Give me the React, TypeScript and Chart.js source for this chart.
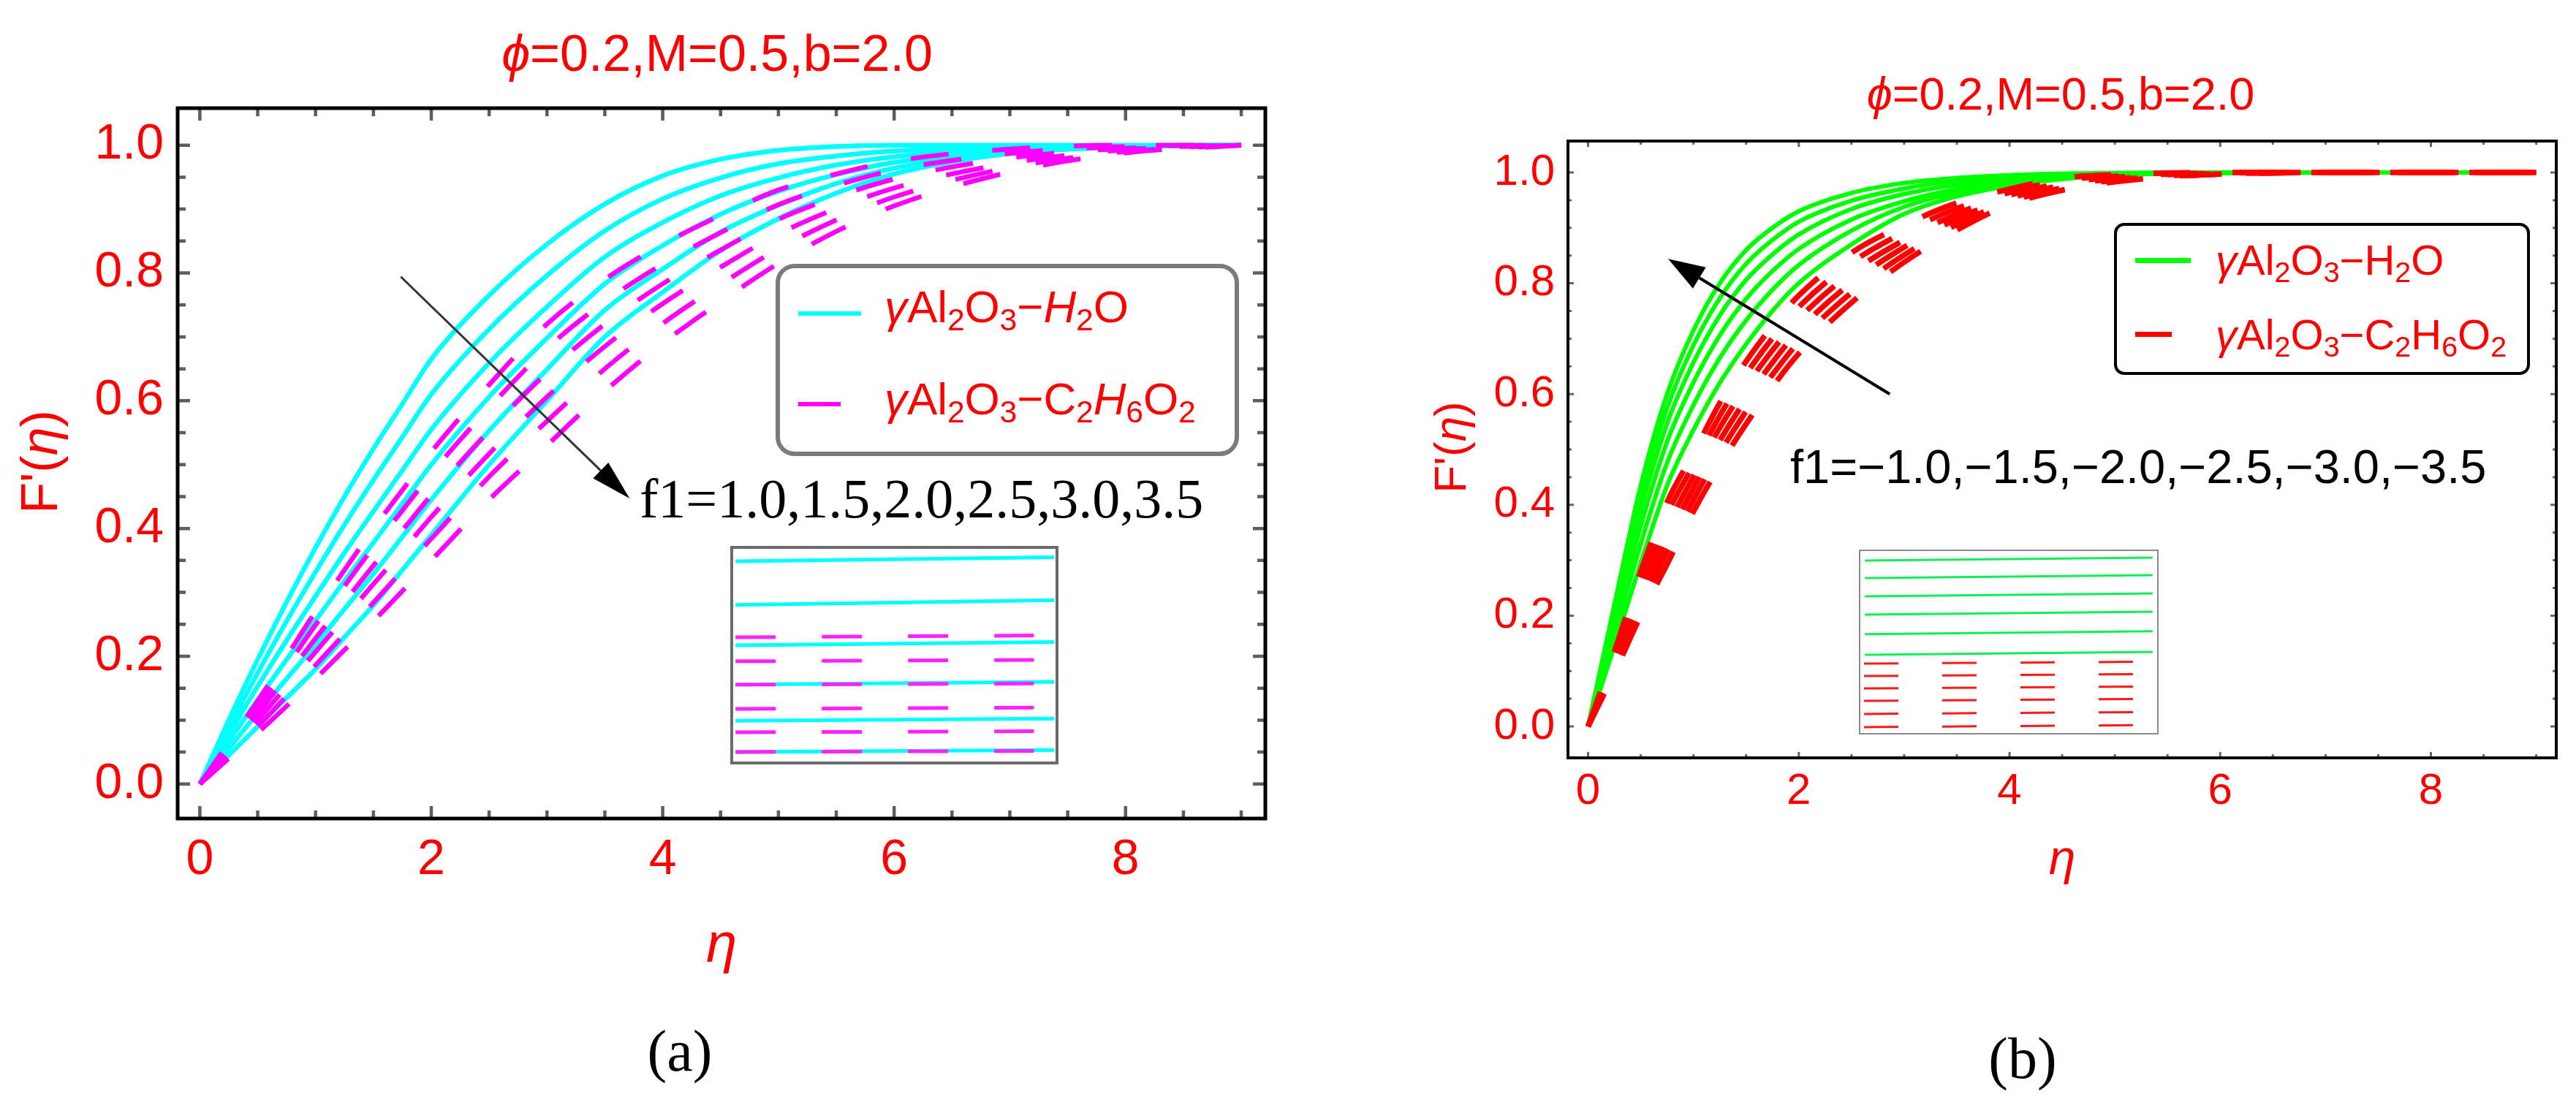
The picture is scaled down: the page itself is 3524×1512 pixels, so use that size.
import React, { useEffect, useRef } from "react";
import { Chart, registerables } from "chart.js";

Chart.register(...registerables);

const SANS = "'Liberation Sans', Arial, Helvetica, 'DejaVu Sans', sans-serif";
const SERIF = "'Liberation Serif', 'Times New Roman', Times, serif";
const RED = "#ff0000";

// ---------- data ----------
const ETA = [0, 0.25, 0.5, 0.75, 1, 1.25, 1.5, 1.75, 2, 2.5, 3, 3.5, 4, 4.5, 5, 5.5, 6, 7, 8, 9];

// Panel (a) γAl2O3–H2O, f1 = 1.0 … 3.5
const A_H2O_F10 = [0, .1, .195, .285, .37, .45, .525, .595, .665, .765, .845, .908, .952, .978, .992, .998, 1, 1, 1, 1];
const A_H2O_F15 = [0, .089, .174, .255, .332, .406, .476, .543, .61, .712, .796, .866, .916, .949, .971, .983, .991, .997, .999, 1];
const A_H2O_F20 = [0, .078, .153, .225, .294, .362, .427, .491, .555, .659, .747, .825, .879, .921, .949, .969, .982, .995, .999, 1];
const A_H2O_F25 = [0, .067, .132, .195, .256, .318, .378, .439, .5, .606, .698, .783, .843, .892, .928, .954, .973, .992, .998, 1];
const A_H2O_F30 = [0, .056, .111, .165, .218, .274, .329, .387, .445, .553, .649, .742, .806, .864, .906, .94, .964, .99, .998, 1];
const A_H2O_F35 = [0, .045, .09, .135, .18, .23, .28, .335, .39, .5, .6, .7, .77, .835, .885, .925, .955, .987, .997, 1];

// Panel (a) γAl2O3–C2H6O2
const A_EG_F10 = [0, .065, .13, .2, .27, .335, .4, .46, .52, .625, .72, .79, .845, .89, .93, .955, .975, .994, 1, 1];
const A_EG_F15 = [0, .06, .12, .184, .249, .31, .371, .428, .486, .589, .682, .755, .814, .863, .907, .937, .961, .987, .998, 1];
const A_EG_F20 = [0, .055, .11, .169, .228, .285, .342, .397, .452, .553, .644, .72, .783, .836, .884, .919, .947, .98, .995, 1];
const A_EG_F25 = [0, .05, .1, .153, .207, .26, .313, .365, .418, .517, .606, .685, .752, .809, .861, .901, .933, .972, .993, 1];
const A_EG_F30 = [0, .045, .09, .138, .186, .235, .284, .334, .384, .481, .568, .65, .721, .782, .838, .883, .919, .965, .99, 1];
const A_EG_F35 = [0, .04, .08, .122, .165, .21, .255, .302, .35, .445, .53, .615, .69, .755, .815, .865, .905, .958, .988, 1];

// Panel (b) γAl2O3–H2O, f1 = −1.0 … −3.5
const B_H2O_F10 = [0, .22, .435, .6, .715, .8, .86, .9, .93, .963, .981, .99, .995, .998, .999, 1, 1, 1, 1, 1];
const B_H2O_F15 = [0, .209, .414, .575, .688, .773, .835, .878, .911, .949, .971, .985, .992, .996, .998, .999, 1, 1, 1, 1];
const B_H2O_F20 = [0, .196, .39, .547, .657, .742, .806, .852, .888, .934, .961, .978, .988, .994, .997, .999, 1, 1, 1, 1];
const B_H2O_F25 = [0, .181, .362, .514, .621, .706, .772, .822, .862, .915, .948, .97, .984, .992, .997, .998, .999, 1, 1, 1];
const B_H2O_F30 = [0, .164, .33, .476, .58, .665, .733, .788, .833, .895, .938, .964, .98, .99, .996, .998, .999, 1, 1, 1];
const B_H2O_F35 = [0, .145, .295, .435, .535, .62, .69, .75, .8, .87, .925, .957, .976, .988, .995, .998, .999, 1, 1, 1];

// Panel (b) γAl2O3–C2H6O2
const B_EG_F10 = [0, .135, .28, .405, .493, .584, .659, .723, .778, .855, .905, .945, .97, .99, .996, .999, 1, 1, 1, 1];
const B_EG_F15 = [0, .127, .264, .383, .472, .561, .636, .701, .757, .837, .892, .935, .964, .986, .993, .997, .999, 1, 1, 1];
const B_EG_F20 = [0, .12, .248, .36, .451, .539, .614, .679, .736, .819, .878, .925, .959, .981, .991, .996, .998, 1, 1, 1];
const B_EG_F25 = [0, .112, .232, .338, .43, .516, .591, .657, .715, .801, .865, .916, .953, .977, .988, .994, .998, 1, 1, 1];
const B_EG_F30 = [0, .105, .216, .315, .409, .494, .569, .635, .694, .783, .851, .906, .947, .972, .986, .993, .997, 1, 1, 1];
const B_EG_F35 = [0, .097, .2, .293, .388, .471, .546, .613, .673, .765, .838, .896, .942, .968, .983, .992, .997, 1, 1, 1];

const A_H2O = [A_H2O_F10, A_H2O_F15, A_H2O_F20, A_H2O_F25, A_H2O_F30, A_H2O_F35];
const A_EG = [A_EG_F10, A_EG_F15, A_EG_F20, A_EG_F25, A_EG_F30, A_EG_F35];
const B_H2O = [B_H2O_F10, B_H2O_F15, B_H2O_F20, B_H2O_F25, B_H2O_F30, B_H2O_F35];
const B_EG = [B_EG_F10, B_EG_F15, B_EG_F20, B_EG_F25, B_EG_F30, B_EG_F35];

const F1_A = ["1.0", "1.5", "2.0", "2.5", "3.0", "3.5"];
const F1_B = ["−1.0", "−1.5", "−2.0", "−2.5", "−3.0", "−3.5"];

// ticks
const X_TICKS = [0, 2, 4, 6, 8];
const X_MINOR = [0.5, 1, 1.5, 2.5, 3, 3.5, 4.5, 5, 5.5, 6.5, 7, 7.5, 8.5, 9];
const Y_TICKS = [0, 0.2, 0.4, 0.6, 0.8, 1.0];
const Y_MINOR = [0.05, 0.1, 0.15, 0.25, 0.3, 0.35, 0.45, 0.5, 0.55, 0.65, 0.7, 0.75, 0.85, 0.9, 0.95];

// arrows (data coordinates: from -> to)
const ARROW_A = [[1.737, 0.794], [3.714, 0.447]];
const ARROW_B = [[2.863, 0.600], [0.760, 0.844]];

// insets (own 0..1 coordinates: [left y, right y])
const INSET_A_X = [0.016, 0.987];
const INSET_A_DASH_X = [0.016, 0.925];
const INSET_A_CYAN = [[0.93, 0.948], [0.73, 0.752], [0.545, 0.56], [0.365, 0.378], [0.2, 0.21], [0.057, 0.066]];
const INSET_A_MAGENTA = [[0.582, 0.59], [0.472, 0.478], [0.365, 0.37], [0.254, 0.26], [0.147, 0.152], [0.057, 0.062]];
const INSET_B_X = [0.02, 0.98];
const INSET_B_DASH_X = [0.017, 0.915];
const INSET_B_GREEN = [[0.941, 0.957], [0.846, 0.862], [0.747, 0.763], [0.648, 0.664], [0.542, 0.558], [0.431, 0.447]];
const INSET_B_RED = [[0.383, 0.393], [0.316, 0.326], [0.249, 0.259], [0.182, 0.192], [0.111, 0.121], [0.04, 0.05]];

// ---------- plugins ----------
const frameTicksPlugin = {
  id: "frameTicks",
  afterDatasetsDraw(chart: any, _a: any, o: any) {
    if (!o || !o.enabled) return;
    const { ctx, chartArea: a } = chart;
    const xs = chart.scales.x;
    const ys = chart.scales.y;
    ctx.save();
    ctx.strokeStyle = o.tickColor;
    ctx.lineWidth = o.tickWidth;
    ctx.lineCap = "butt";
    const vx = (vals: number[], len: number) => {
      for (const v of vals) {
        const p = xs.getPixelForValue(v);
        ctx.beginPath();
        ctx.moveTo(p, a.bottom);
        ctx.lineTo(p, a.bottom - len);
        ctx.moveTo(p, a.top);
        ctx.lineTo(p, a.top + len);
        ctx.stroke();
      }
    };
    const vy = (vals: number[], len: number) => {
      for (const v of vals) {
        const p = ys.getPixelForValue(v);
        ctx.beginPath();
        ctx.moveTo(a.left, p);
        ctx.lineTo(a.left + len, p);
        ctx.moveTo(a.right, p);
        ctx.lineTo(a.right - len, p);
        ctx.stroke();
      }
    };
    vx(X_TICKS, o.major);
    vx(X_MINOR, o.minor);
    vy(Y_TICKS, o.major);
    vy(Y_MINOR, o.minor);
    ctx.strokeStyle = o.frameColor;
    ctx.lineWidth = o.frameWidth;
    ctx.strokeRect(a.left, a.top, a.right - a.left, a.bottom - a.top);
    if (o.arrow) {
      const [[x0, y0], [x1, y1]] = o.arrow;
      const p0x = xs.getPixelForValue(x0);
      const p0y = ys.getPixelForValue(y0);
      const p1x = xs.getPixelForValue(x1);
      const p1y = ys.getPixelForValue(y1);
      const ang = Math.atan2(p1y - p0y, p1x - p0x);
      const hl = o.arrowHead;
      const hw = o.arrowHalf;
      const bx = p1x - hl * Math.cos(ang);
      const by = p1y - hl * Math.sin(ang);
      ctx.strokeStyle = o.arrowColor;
      ctx.lineWidth = o.arrowWidth;
      ctx.beginPath();
      ctx.moveTo(p0x, p0y);
      ctx.lineTo(bx, by);
      ctx.stroke();
      ctx.fillStyle = o.arrowHeadColor;
      ctx.beginPath();
      ctx.moveTo(p1x, p1y);
      ctx.lineTo(bx + hw * Math.sin(ang), by - hw * Math.cos(ang));
      ctx.lineTo(bx - hw * Math.sin(ang), by + hw * Math.cos(ang));
      ctx.closePath();
      ctx.fill();
    }
    ctx.restore();
  },
};

const insetBorderPlugin = {
  id: "insetBorder",
  afterDatasetsDraw(chart: any, _a: any, o: any) {
    if (!o || !o.enabled) return;
    const { ctx } = chart;
    ctx.save();
    ctx.strokeStyle = o.color;
    ctx.lineWidth = o.width;
    ctx.strokeRect(o.width / 2, o.width / 2, chart.width - o.width, chart.height - o.width);
    ctx.restore();
  },
};

// ---------- configs ----------
function curveDataset(label: string, arr: number[], color: string, width: number, dash: number[], order: number) {
  return {
    label,
    data: ETA.map((x, i) => ({ x, y: arr[i] })),
    borderColor: color,
    backgroundColor: color,
    borderWidth: width,
    borderDash: dash,
    borderCapStyle: "butt",
    borderJoinStyle: "round",
    pointRadius: 0,
    fill: false,
    cubicInterpolationMode: "monotone",
    order,
  };
}

function panelConfig(s: any) {
  const datasets: any[] = [];
  s.solid.forEach((arr: number[], i: number) =>
    datasets.push(curveDataset(`γAl2O3-H2O f1=${s.f1[i]}`, arr, s.solidColor, s.solidWidth, [], 1)));
  s.dashed.forEach((arr: number[], i: number) =>
    datasets.push(curveDataset(`γAl2O3-C2H6O2 f1=${s.f1[i]}`, arr, s.dashedColor, s.dashedWidth, s.dash, 0)));
  return {
    type: "line",
    data: { datasets },
    options: {
      responsive: false,
      animation: false,
      devicePixelRatio: 1,
      events: [],
      layout: { padding: s.padding },
      plugins: {
        legend: { display: false },
        tooltip: { enabled: false },
        title: { display: false },
        frameTicks: {
          enabled: true,
          tickColor: s.tickColor, tickWidth: s.tickWidth, major: s.major, minor: s.minor,
          frameColor: "#000000", frameWidth: s.frameWidth,
          arrow: s.arrow, arrowColor: s.arrowColor, arrowHeadColor: "#000000",
          arrowWidth: s.arrowWidth, arrowHead: s.arrowHead, arrowHalf: s.arrowHalf,
        },
      },
      scales: {
        x: {
          type: "linear",
          min: s.xMin,
          max: s.xMax,
          grid: { display: false, drawTicks: false },
          border: { display: false },
          afterFit: (sc: any) => { sc.height = s.xAxisH; },
          afterBuildTicks: (sc: any) => { sc.ticks = X_TICKS.map((v) => ({ value: v })); },
          ticks: {
            autoSkip: false, maxRotation: 0, minRotation: 0, padding: s.tickPadX, color: RED,
            font: { family: SANS, size: s.tickFont },
            callback: (v: any) => String(v),
          },
          title: {
            display: true, text: "η", color: RED,
            font: { family: SANS, size: s.xTitleFont, style: "italic" },
            padding: { top: 0, bottom: s.xTitlePad },
          },
        },
        y: {
          type: "linear",
          min: s.yMin,
          max: s.yMax,
          grid: { display: false, drawTicks: false },
          border: { display: false },
          afterFit: (sc: any) => { sc.width = s.yAxisW; },
          afterBuildTicks: (sc: any) => { sc.ticks = Y_TICKS.map((v) => ({ value: v })); },
          ticks: {
            autoSkip: false, padding: s.tickPadY, color: RED,
            font: { family: SANS, size: s.tickFont },
            callback: (v: any) => Number(v).toFixed(1),
          },
          title: { display: false },
        },
      },
    },
    plugins: [frameTicksPlugin],
  };
}

function insetConfig(s: any) {
  const datasets: any[] = [];
  s.solid.forEach((lv: number[], i: number) =>
    datasets.push({
      label: `solid ${i}`,
      data: [{ x: s.solidX[0], y: lv[0] }, { x: s.solidX[1], y: lv[1] }],
      borderColor: s.solidColor, borderWidth: s.solidWidth, pointRadius: 0, fill: false, order: 1,
    }));
  s.dashed.forEach((lv: number[], i: number) =>
    datasets.push({
      label: `dashed ${i}`,
      data: [{ x: s.dashX[0], y: lv[0] }, { x: s.dashX[1], y: lv[1] }],
      borderColor: s.dashedColor, borderWidth: s.dashedWidth, borderDash: s.dash, borderCapStyle: "butt",
      pointRadius: 0, fill: false, order: 0,
    }));
  return {
    type: "line",
    data: { datasets },
    options: {
      responsive: false,
      animation: false,
      devicePixelRatio: 1,
      events: [],
      layout: { padding: 0 },
      plugins: {
        legend: { display: false },
        tooltip: { enabled: false },
        insetBorder: { enabled: true, color: s.borderColor, width: s.borderWidth },
      },
      scales: {
        x: { type: "linear", min: 0, max: 1, display: false },
        y: { type: "linear", min: 0, max: 1, display: false },
      },
    },
    plugins: [insetBorderPlugin],
  };
}

const PANEL_A = {
  f1: F1_A,
  solid: A_H2O, solidColor: "#00ffff", solidWidth: 6.5,
  dashed: A_EG, dashedColor: "#ff00ff", dashedWidth: 6.5, dash: [52, 60],
  padding: { left: 0, right: 31, top: 148, bottom: 162 },
  yAxisW: 243, xAxisH: 230,
  xMin: -0.192, xMax: 9.208, yMin: -0.054, yMax: 1.058,
  tickFont: 68, tickPadX: 16, tickPadY: 19,
  xTitleFont: 76, xTitlePad: 10,
  tickColor: "#5e5e5e", tickWidth: 4.5, major: 17, minor: 11, frameWidth: 5,
  arrow: ARROW_A, arrowColor: "#333333", arrowWidth: 3, arrowHead: 55, arrowHalf: 15,
};

const PANEL_B = {
  f1: F1_B,
  solid: B_H2O, solidColor: "#00ff00", solidWidth: 6,
  dashed: B_EG, dashedColor: "#ff0000", dashedWidth: 7.5, dash: [50, 58],
  padding: { left: 0, right: 27, top: 193, bottom: 275 },
  yAxisW: 383, xAxisH: 200,
  xMin: -0.191, xMax: 9.19, yMin: -0.0567, yMax: 1.0567,
  tickFont: 60, tickPadX: 10, tickPadY: 18,
  xTitleFont: 66, xTitlePad: 20,
  tickColor: "#666666", tickWidth: 3, major: 8, minor: 5, frameWidth: 4,
  arrow: ARROW_B, arrowColor: "#000000", arrowWidth: 4, arrowHead: 50, arrowHalf: 17,
};

const INSET_A = {
  solid: INSET_A_CYAN, solidX: INSET_A_X, solidColor: "#00ffff", solidWidth: 5,
  dashed: INSET_A_MAGENTA, dashX: INSET_A_DASH_X, dashedColor: "#ff22ff", dashedWidth: 5, dash: [55, 63],
  borderColor: "#6b6b6b", borderWidth: 4,
};

const INSET_B = {
  solid: INSET_B_GREEN, solidX: INSET_B_X, solidColor: "#12ee5a", solidWidth: 3,
  dashed: INSET_B_RED, dashX: INSET_B_DASH_X, dashedColor: "#ff1a1a", dashedWidth: 3, dash: [47, 60],
  borderColor: "#8a8a8a", borderWidth: 2,
};

// ---------- components ----------
function ChartCanvas({ build, left, top, width, height }: any) {
  const ref = useRef<HTMLCanvasElement>(null);
  useEffect(() => {
    const chart = new Chart(ref.current as HTMLCanvasElement, build() as any);
    return () => chart.destroy();
  }, []);
  return (
    <canvas
      ref={ref}
      width={width}
      height={height}
      style={{ position: "absolute", left, top, width, height }}
    />
  );
}

function Label({ x, cy, size, family = SANS, color = RED, align = "left", children, k = 0.49 }: any) {
  const style: any = {
    position: "absolute",
    top: cy - k * size,
    fontSize: size,
    lineHeight: `${size}px`,
    fontFamily: family,
    color,
    whiteSpace: "nowrap",
  };
  if (align === "center") {
    style.left = x - 1000;
    style.width = 2000;
    style.textAlign = "center";
  } else {
    style.left = x;
  }
  return <div style={style}>{children}</div>;
}

function VLabel({ cx, cy, size, children }: any) {
  return (
    <div
      style={{
        position: "absolute",
        left: cx - 300,
        top: cy - size / 2,
        width: 600,
        height: size,
        lineHeight: `${size}px`,
        fontSize: size,
        fontFamily: SANS,
        color: RED,
        textAlign: "center",
        whiteSpace: "nowrap",
        transform: "rotate(-90deg)",
        transformOrigin: "50% 50%",
      }}
    >
      {children}
    </div>
  );
}

const Sub = ({ children }: any) => (
  <span style={{ fontSize: "0.68em", position: "relative", top: "0.27em" }}>{children}</span>
);

function Swatch({ x, y, w, h, color }: any) {
  return <div style={{ position: "absolute", left: x, top: y - h / 2, width: w, height: h, background: color }} />;
}

export default function App() {
  useEffect(() => {
    document.body.style.margin = "0";
  }, []);
  return (
    <div style={{ position: "absolute", left: 0, top: 0, width: 3524, height: 1512, background: "#ffffff", overflow: "hidden" }}>
      <ChartCanvas build={() => panelConfig(PANEL_A)} left={0} top={0} width={1762} height={1512} />
      <ChartCanvas build={() => panelConfig(PANEL_B)} left={1762} top={0} width={1762} height={1512} />

      {/* insets */}
      <ChartCanvas build={() => insetConfig(INSET_A)} left={999} top={747} width={449} height={299} />
      <ChartCanvas build={() => insetConfig(INSET_B)} left={2543} top={752} width={410} height={253} />

      {/* y-axis titles */}
      <VLabel cx={54} cy={632} size={70}>F'(<i>η</i>)</VLabel>
      <VLabel cx={1984} cy={612} size={62}>F'(<i>η</i>)</VLabel>

      {/* titles */}
      <Label x={981} cy={72} size={70} align="center"><i>ϕ</i>=0.2,M=0.5,b=2.0</Label>
      <Label x={2819} cy={128} size={63} align="center"><i>ϕ</i>=0.2,M=0.5,b=2.0</Label>

      {/* panel captions */}
      <Label x={930} cy={1444} size={80} family={SERIF} color="#000000" align="center" k={0.58}>(a)</Label>
      <Label x={2767} cy={1454} size={80} family={SERIF} color="#000000" align="center" k={0.58}>(b)</Label>

      {/* annotations */}
      <Label x={875} cy={682} size={76} family={SERIF} color="#000000" k={0.5}>f1=1.0,1.5,2.0,2.5,3.0,3.5</Label>
      <Label x={2449} cy={638} size={65} color="#000000">f1=−1.0,−1.5,−2.0,−2.5,−3.0,−3.5</Label>

      {/* legend (a) */}
      <div style={{ position: "absolute", left: 1061, top: 361, width: 634, height: 263, border: "6px solid #7b7b7b", borderRadius: 26, boxSizing: "border-box", background: "#ffffff" }} />
      <Swatch x={1092} y={429} w={86} h={6} color={PANEL_A.solidColor} />
      <Swatch x={1092} y={553} w={58} h={6} color={PANEL_A.dashedColor} />
      <Label x={1210} cy={419} size={62}><i>γ</i>Al<Sub>2</Sub>O<Sub>3</Sub>−<i>H</i><Sub>2</Sub>O</Label>
      <Label x={1210} cy={545} size={62}><i>γ</i>Al<Sub>2</Sub>O<Sub>3</Sub>−C<Sub>2</Sub><i>H</i><Sub>6</Sub>O<Sub>2</Sub></Label>

      {/* legend (b) */}
      <div style={{ position: "absolute", left: 2892, top: 305, width: 569, height: 208, border: "4px solid #000000", borderRadius: 14, boxSizing: "border-box", background: "#ffffff" }} />
      <Swatch x={2921} y={356} w={76} h={7} color={PANEL_B.solidColor} />
      <Swatch x={2921} y={457} w={50} h={7} color={PANEL_B.dashedColor} />
      <Label x={3031} cy={355} size={58}><i>γ</i>Al<Sub>2</Sub>O<Sub>3</Sub>−H<Sub>2</Sub>O</Label>
      <Label x={3031} cy={457} size={58}><i>γ</i>Al<Sub>2</Sub>O<Sub>3</Sub>−C<Sub>2</Sub>H<Sub>6</Sub>O<Sub>2</Sub></Label>
    </div>
  );
}
